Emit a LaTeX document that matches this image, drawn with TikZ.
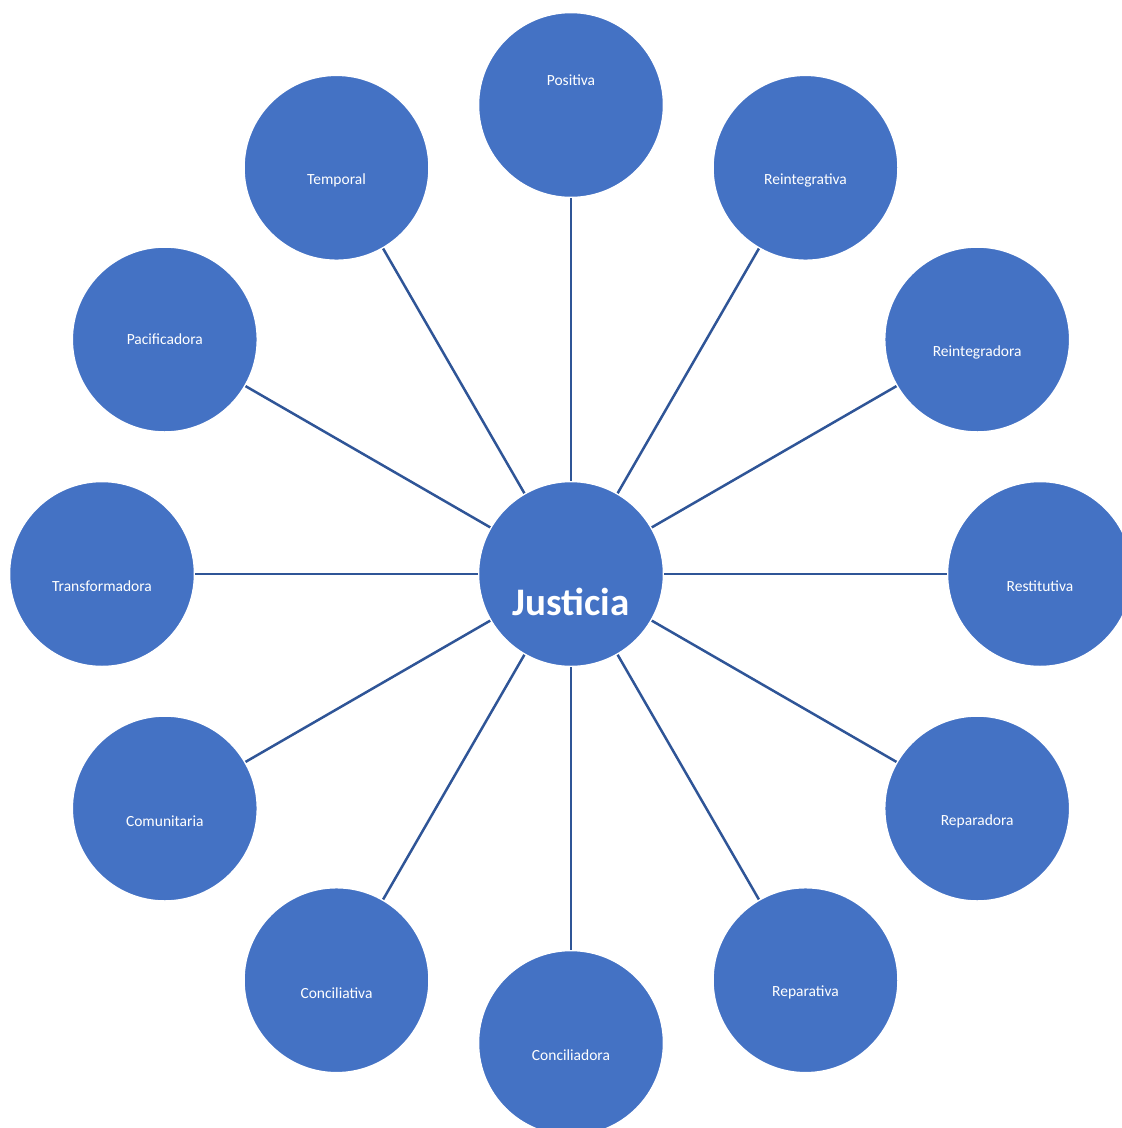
\documentclass[tikz,border=0pt]{standalone}
\usepackage{fontspec}
\setmainfont{Carlito}
\definecolor{circfill}{HTML}{4472C4}
\definecolor{linkcol}{HTML}{2F5597}
\begin{document}
\begin{tikzpicture}[x=1pt,y=-1pt,
  bubble/.style={circle, fill=circfill, draw=white, line width=1.5pt, minimum size=185pt, inner sep=0pt},
  lbl/.style={text=white, font=\fontsize{15.5}{18}\selectfont, inner sep=0pt},
  link/.style={draw=linkcol, line width=2.5pt}]
\useasboundingbox (0,0) rectangle (1122,1128);
\clip (0,0) rectangle (1122,1128);
\node[bubble, label={[lbl, font=\fontsize{39}{44}\selectfont\bfseries, yshift=-28pt]center:Justicia}] (c) at (571,574) {};
\node[bubble, label={[lbl, yshift=25pt]center:Positiva}] (n1) at (571,105) {};
\node[bubble, label={[lbl, yshift=-12.5pt]center:Reintegrativa}] (n2) at (805.5,167.8) {};
\node[bubble, label={[lbl, yshift=-12.5pt]center:Reintegradora}] (n3) at (977.2,339.5) {};
\node[bubble, label={[lbl, yshift=-12pt]center:Restitutiva}] (n4) at (1040,574) {};
\node[bubble, label={[lbl, yshift=-12.5pt]center:Reparadora}] (n5) at (977.2,808.5) {};
\node[bubble, label={[lbl, yshift=-12.5pt]center:Reparativa}] (n6) at (805.5,980.2) {};
\node[bubble, label={[lbl, yshift=-12.5pt]center:Conciliadora}] (n7) at (571,1043) {};
\node[bubble, label={[lbl, yshift=-12.5pt]center:Conciliativa}] (n8) at (336.5,980.2) {};
\node[bubble, label={[lbl, yshift=-12.5pt]center:Comunitaria}] (n9) at (164.8,808.5) {};
\node[bubble, label={[lbl, yshift=-12pt]center:Transformadora}] (n10) at (102,574) {};
\node[bubble, label={[lbl, yshift=0pt]center:Pacificadora}] (n11) at (164.8,339.5) {};
\node[bubble, label={[lbl, yshift=-12.5pt]center:Temporal}] (n12) at (336.5,167.8) {};
\foreach \i in {1,...,12} {\draw[link] (c) -- (n\i);}
\end{tikzpicture}
\end{document}
